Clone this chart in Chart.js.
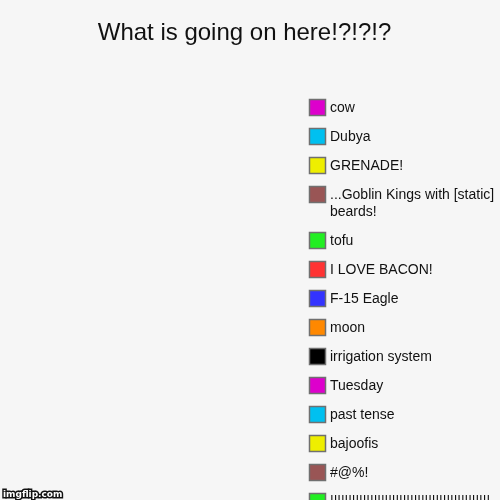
<!DOCTYPE html>
<html>
<head>
<meta charset="utf-8">
<script src="https://cdn.jsdelivr.net/npm/chart.js@4/dist/chart.umd.min.js"></script>
<style>
  html, body { margin: 0; padding: 0; background: #f6f6f6; }
  #wrap { width: 500px; height: 500px; }
</style>
</head>
<body>
<div id="wrap"><canvas id="myChart" width="500" height="500"></canvas></div>
<script>
// slice names, top to bottom in the legend
const labels = [
    'cow', 'Dubya', 'GRENADE!', '...Goblin Kings with [static] beards!', 'tofu',
    'I LOVE BACON!', 'F-15 Eagle', 'moon', 'irrigation system', 'Tuesday',
    'past tense', 'bajoofis', '#@%!', '||||||||||||||||||||||||||||||||||||||||||||'
];
// no slice is drawn in the picture, so every value is zero
const values = [0, 0, 0, 0, 0, 0, 0, 0, 0, 0, 0, 0, 0, 0];
const colors = [
    '#dd00cc', '#00c0f0', '#eeee00', '#995555', '#22ee22',
    '#ff3333', '#3333ff', '#ff8800', '#000000', '#dd00cc',
    '#00c0f0', '#eeee00', '#995555', '#22ee22'
];

// legend drawn by hand so it can wrap long names and run off the bottom
const sideLegend = {
    id: 'sideLegend',
    afterDraw(chart) {
        const c = chart.ctx;
        const ds = chart.data.datasets[0];
        c.save();
        c.font = '14px "Liberation Sans", Arial, sans-serif';
        c.textBaseline = 'middle';
        let y = 99;
        chart.data.labels.forEach((name, i) => {
            // wrap words that overflow the right edge
            const lines = [];
            let line = '';
            name.split(' ').forEach(w => {
                const t = line ? line + ' ' + w : w;
                if (line && c.measureText(t).width > 170) { lines.push(line); line = w; }
                else line = t;
            });
            lines.push(line);
            c.fillStyle = ds.backgroundColor[i];
            c.fillRect(309, y, 17, 17);
            c.strokeStyle = '#707070';
            c.lineWidth = 1.5;
            c.strokeRect(309.5, y + 0.5, 16, 16);
            c.fillStyle = '#111111';
            lines.forEach((l, k) => c.fillText(l, 330, y + 9 + k * 17));
            y += 29 + (lines.length - 1) * 17;
        });
        // watermark
        c.font = 'bold 9px "DejaVu Sans", sans-serif';
        c.textBaseline = 'alphabetic';
        c.lineWidth = 3;
        c.strokeStyle = '#111111';
        c.strokeText('imgflip.com', 3, 497);
        c.fillStyle = '#ffffff';
        c.fillText('imgflip.com', 3, 497);
        c.restore();
    }
};

const ctx = document.getElementById('myChart').getContext('2d');
const myChart = new Chart(ctx, {
    type: 'pie',
    data: {
        labels: labels,
        datasets: [{
            data: values,
            backgroundColor: colors,
            borderColor: '#ffffff',
            borderWidth: 1
        }]
    },
    options: {
        responsive: false,
        animation: false,
        layout: { padding: { left: 0, right: 11, top: 10, bottom: 20 } },
        plugins: {
            legend: { display: false },
            tooltip: { enabled: false },
            title: {
                display: true,
                text: 'What is going on here!?!?!?',
                color: '#111111',
                font: { family: '"Liberation Sans", Arial, sans-serif', size: 24, weight: 'normal' },
                padding: { top: 9, bottom: 10 }
            }
        }
    },
    plugins: [sideLegend]
});
</script>
</body>
</html>
